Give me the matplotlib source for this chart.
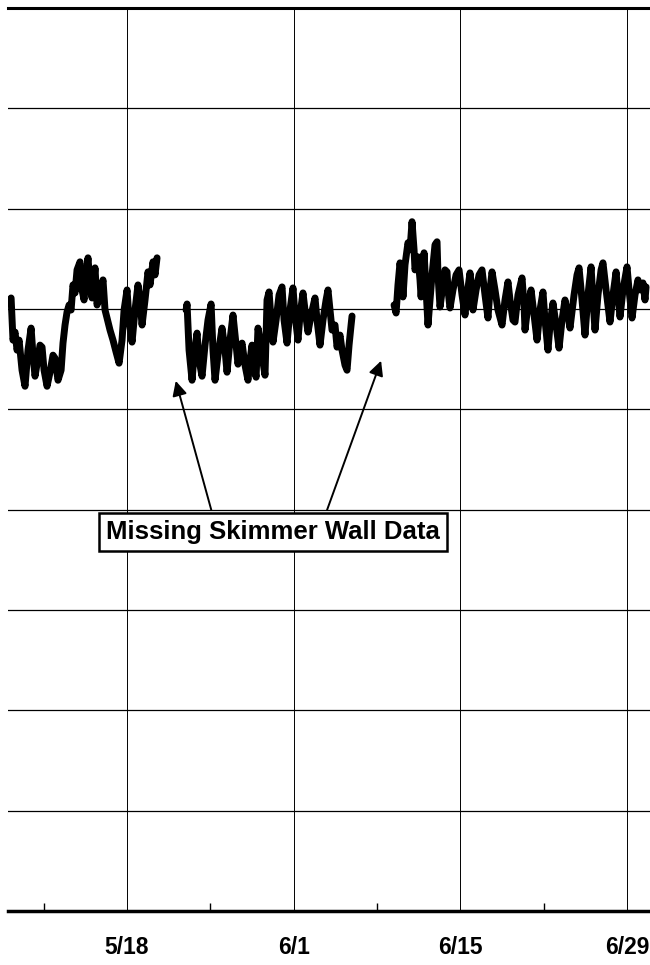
import matplotlib
matplotlib.use("Agg")
import matplotlib.pyplot as plt
from matplotlib.ticker import FixedLocator

plt.rcParams['font.family'] = ['Liberation Sans', 'DejaVu Sans']

# Time in days (May 1 = 1, so 6/1 = 32) and water level (grid units)
seg1_day = [8.17, 8.26, 8.42, 8.59, 8.76, 8.93, 9.18, 9.43, 9.68, 9.94, 10.10, 10.27, 10.52, 10.69,
            10.86, 11.03, 11.28, 11.53, 11.78, 11.95, 12.20, 12.46, 12.62, 12.79, 12.96, 13.13, 13.30,
            13.46, 13.63, 13.80, 14.05, 14.22, 14.39, 14.56, 14.72, 14.89, 15.06, 15.31, 15.48, 15.73,
            15.98, 16.15, 16.32, 16.57, 16.82, 17.08, 17.33, 17.58, 17.75, 18.00, 18.17, 18.42, 18.67,
            18.92, 19.09, 19.26, 19.51, 19.76, 19.93, 20.18, 20.35, 20.52]
seg1_val = [6.09, 6.11, 5.69, 5.77, 5.59, 5.69, 5.39, 5.23, 5.59, 5.81, 5.54, 5.33, 5.51, 5.64,
            5.62, 5.39, 5.23, 5.37, 5.54, 5.51, 5.29, 5.39, 5.66, 5.84, 5.97, 6.04, 5.99,
            6.24, 6.16, 6.39, 6.47, 6.19, 6.09, 6.34, 6.51, 6.24, 6.11, 6.41, 6.04, 6.14,
            6.29, 5.99, 5.91, 5.79, 5.69, 5.57, 5.46, 5.69, 5.99, 6.19, 5.89, 5.67, 5.99,
            6.24, 6.09, 5.84, 6.09, 6.37, 6.24, 6.47, 6.34, 6.51]

seg2_day = [22.96, 23.04, 23.21, 23.46, 23.63, 23.88, 24.05, 24.30, 24.55, 24.80, 25.06, 25.22, 25.39,
            25.64, 25.98, 26.23, 26.40, 26.65, 26.90, 27.16, 27.32, 27.49, 27.66, 27.91, 28.16, 28.33,
            28.50, 28.67, 28.84, 29.00, 29.26, 29.42, 29.59, 29.76, 29.93, 30.10, 30.26, 30.52, 30.77,
            31.02, 31.19, 31.44, 31.69, 31.94, 32.11, 32.36, 32.53, 32.78, 32.95, 33.20, 33.46, 33.79,
            33.96, 34.21, 34.46, 34.72, 34.88, 35.05, 35.22, 35.47, 35.64, 35.89, 36.06, 36.31, 36.48,
            36.65, 36.82, 36.90]
seg2_val = [5.99, 6.05, 5.59, 5.29, 5.54, 5.76, 5.49, 5.33, 5.64, 5.89, 6.05, 5.59, 5.29,
            5.54, 5.81, 5.59, 5.37, 5.69, 5.94, 5.64, 5.45, 5.59, 5.66, 5.44, 5.29, 5.49,
            5.64, 5.44, 5.32, 5.81, 5.64, 5.47, 5.34, 6.09, 6.17, 5.89, 5.67, 5.89, 6.14,
            6.22, 5.89, 5.66, 5.99, 6.21, 5.94, 5.69, 5.94, 6.16, 5.99, 5.77, 5.94, 6.11,
            5.89, 5.64, 5.89, 6.09, 6.19, 5.99, 5.79, 5.84, 5.62, 5.74, 5.59, 5.44, 5.39,
            5.64, 5.84, 5.93]

seg3_day = [40.43, 40.60, 40.76, 40.93, 41.10, 41.18, 41.35, 41.60, 41.77, 41.94, 42.11, 42.19, 42.36,
            42.44, 42.61, 42.70, 42.86, 42.95, 43.12, 43.28, 43.45, 43.62, 43.87, 44.04, 44.12, 44.29,
            44.54, 44.71, 44.88, 44.96, 45.13, 45.38, 45.64, 45.89, 46.14, 46.39, 46.56, 46.81, 46.98,
            47.06, 47.32, 47.57, 47.82, 48.07, 48.32, 48.49, 48.66, 48.91, 49.16, 49.50, 49.75, 50.00,
            50.17, 50.42, 50.59, 50.84, 51.18, 51.35, 51.43, 51.68, 51.94, 52.19, 52.44, 52.69, 52.94,
            53.11, 53.36, 53.53, 53.78, 54.04, 54.29, 54.54, 54.79, 55.04, 55.21, 55.55, 55.80, 55.97,
            56.22, 56.47, 56.72, 56.98, 57.14, 57.31, 57.56, 57.82, 57.98, 58.24, 58.57, 58.82, 59.08,
            59.24, 59.41, 59.66, 60.00, 60.17, 60.42, 60.67, 60.92, 61.09, 61.34, 61.51, 61.60]
seg3_val = [6.04, 5.96, 6.24, 6.46, 6.29, 6.12, 6.44, 6.66, 6.59, 6.87, 6.59, 6.39, 6.47,
            6.52, 6.29, 6.12, 6.39, 6.56, 6.19, 5.84, 6.09, 6.34, 6.64, 6.67, 6.34, 6.02,
            6.24, 6.39, 6.37, 6.19, 6.01, 6.19, 6.34, 6.39, 6.14, 5.94, 6.14, 6.36, 6.19,
            5.99, 6.19, 6.34, 6.39, 6.14, 5.91, 6.19, 6.37, 6.19, 5.99, 5.84, 6.09, 6.27,
            6.09, 5.89, 5.87, 6.14, 6.31, 6.04, 5.79, 6.04, 6.19, 5.94, 5.69, 5.99, 6.17,
            5.89, 5.59, 5.84, 6.06, 5.84, 5.61, 5.89, 6.09, 5.94, 5.81, 6.14, 6.34, 6.41,
            6.09, 5.74, 6.14, 6.42, 6.09, 5.79, 6.14, 6.39, 6.46, 6.19, 5.87, 6.14, 6.37,
            6.14, 5.92, 6.19, 6.42, 6.19, 5.91, 6.14, 6.29, 6.19, 6.26, 6.09, 6.22]

major_days = [18, 32, 46, 60]
major_labels = ["5/18", "6/1", "6/15", "6/29"]
minor_days = [11, 25, 39, 53]
y_grid = [0, 1, 2, 3, 4, 5, 6, 7, 8, 9]
annotation_text = "Missing Skimmer Wall Data"

fig = plt.figure(figsize=(6.5, 9.65), dpi=100)
ax = fig.add_axes([8 / 650, 54 / 965, 642 / 650, 903 / 965])

for d, v in [(seg1_day, seg1_val), (seg2_day, seg2_val), (seg3_day, seg3_val)]:
    ax.plot(d, v, color='black', lw=5.0, solid_joinstyle='round', solid_capstyle='round', zorder=3)

ax.set_xlim(8.0, 61.93)
ax.set_ylim(0, 9)

for y in y_grid:
    ax.axhline(y, color='black', lw=0.9, zorder=1)
for d in major_days:
    ax.axvline(d, color='black', lw=0.7, zorder=1)

ax.xaxis.set_major_locator(FixedLocator(major_days))
ax.set_xticklabels(major_labels, fontsize=16.5, fontweight='bold')
ax.xaxis.set_minor_locator(FixedLocator(minor_days))
ax.tick_params(axis='x', which='major', direction='in', length=0, pad=18)
ax.tick_params(axis='x', which='minor', direction='in', length=6, width=1)
ax.set_yticks([])

for s in ['left', 'right']:
    ax.spines[s].set_visible(False)
ax.spines['top'].set_linewidth(2.2)
ax.spines['bottom'].set_linewidth(2.5)

ax.text(30.26, 3.78, annotation_text, fontsize=18.5, fontweight='bold', ha='center', va='center',
        bbox=dict(boxstyle='square,pad=0.28', fc='white', ec='black', lw=1.8), zorder=5)
ax.annotate('', xy=(22.03, 5.31), xytext=(25.14, 3.97),
            arrowprops=dict(arrowstyle='-|>', color='black', lw=1.4, mutation_scale=22), zorder=4)
ax.annotate('', xy=(39.42, 5.51), xytext=(34.72, 3.97),
            arrowprops=dict(arrowstyle='-|>', color='black', lw=1.4, mutation_scale=22), zorder=4)

fig.savefig('out.png', dpi=100)
